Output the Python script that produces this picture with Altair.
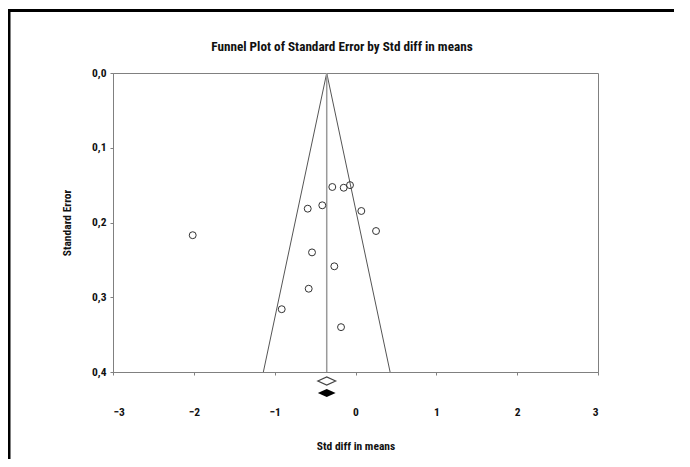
import altair as alt
import pandas as pd

# ---- data ----
effect = [-0.287, -0.146, -0.068, -0.591, -0.411, 0.072, 0.254,
          -0.538, -0.262, -0.579, -0.913, -0.179, -2.014]
std_err = [0.1525, 0.1535, 0.150, 0.1815, 0.177, 0.1846, 0.2114,
           0.240, 0.2586, 0.2886, 0.316, 0.340, 0.217]
pooled = -0.356
ci_low = -0.466
ci_high = -0.246
se_max = 0.4
z_crit = 1.96
x_ticks = [-3, -2, -1, 0, 1, 2, 3]
y_ticks = [0.0, 0.1, 0.2, 0.3, 0.4]
title_text = "Funnel Plot of Standard Error by Std diff in means"

FONT = "Roboto Condensed, Liberation Sans Narrow, Arial Narrow, Liberation Sans"
GRAY = "#808080"

studies = pd.DataFrame({"effect": effect, "se": std_err})
funnel = pd.DataFrame({
    "effect": [pooled - z_crit * se_max, pooled, pooled + z_crit * se_max],
    "se": [se_max, 0.0, se_max],
    "order": [0, 1, 2],
})
center = pd.DataFrame({"effect": [pooled], "se": [0.0], "se2": [se_max]})
diamond = pd.DataFrame({"effect": [pooled], "low": [ci_low], "high": [ci_high]})
title_df = pd.DataFrame({"t": [title_text]})

xscale = alt.Scale(domain=[-3, 3], nice=False, zero=False)
yscale = alt.Scale(domain=[0, 0.4], reverse=True, nice=False, zero=False)

xaxis = alt.Axis(values=x_ticks, format="d", grid=False, tickSize=3,
                 tickColor=GRAY, domainColor=GRAY, labelFont=FONT,
                 labelFontWeight="bold", labelFontSize=11.5, labelColor="#111",
                 labelPadding=31, title="Std diff in means", titleFont=FONT,
                 titleFontSize=11.5, titleFontWeight="bold", titleColor="#111",
                 titleY=74, titleBaseline="middle")
yaxis = alt.Axis(values=y_ticks, grid=False, tickSize=3, tickColor=GRAY,
                 domainColor=GRAY, labelFont=FONT, labelFontWeight="bold",
                 labelFontSize=11.5, labelColor="#111", labelPadding=4,
                 labelExpr="replace(format(datum.value, '.1f'), '.', ',')",
                 title="Standard Error", titleFont=FONT, titleFontSize=11.5,
                 titleFontWeight="bold", titleColor="#111", titleX=-46,
                 titleY=149.5, titleBaseline="middle", titleAngle=-90)

funnel_lines = alt.Chart(funnel).mark_line(color="#555", strokeWidth=1).encode(
    x=alt.X("effect:Q", scale=xscale, axis=xaxis),
    y=alt.Y("se:Q", scale=yscale, axis=yaxis),
    order="order:Q",
)

center_line = alt.Chart(center).mark_rule(color="#9a9a9a", strokeWidth=1.5).encode(
    x="effect:Q", y="se:Q", y2="se2:Q"
)

points = alt.Chart(studies).mark_point(
    shape="circle", size=48, filled=False, color="#333", strokeWidth=1, opacity=1
).encode(x="effect:Q", y="se:Q")

DIAMOND = "M -1 0 L 0 -0.45 L 1 0 L 0 0.45 Z"
diam_w = (ci_high - ci_low) / 6 * 485
open_diamond = alt.Chart(diamond).mark_point(
    shape=DIAMOND, size=diam_w ** 2, filled=False, color="#444",
    strokeWidth=1.2, opacity=1, clip=False
).encode(x="effect:Q", y=alt.value(308))

filled_diamond = alt.Chart(diamond).mark_point(
    shape=DIAMOND, size=diam_w ** 2, filled=True, color="#000",
    opacity=1, clip=False
).encode(x="effect:Q", y=alt.value(320))

title_mark = alt.Chart(title_df).mark_text(
    font=FONT, fontSize=13.2, fontWeight="bold", color="#111",
    align="center", baseline="middle"
).encode(text="t:N", x=alt.value(229), y=alt.value(-26))

border_top = alt.Chart(title_df).mark_rule(color="#000", strokeWidth=3).encode(
    x=alt.value(-105), x2=alt.value(561), y=alt.value(-62.5)
)
border_left = alt.Chart(title_df).mark_rule(color="#000", strokeWidth=3).encode(
    x=alt.value(-104), y=alt.value(-64), y2=alt.value(386)
)

chart = alt.layer(
    funnel_lines, center_line, points, open_diamond, filled_diamond,
    title_mark, border_top, border_left
).properties(
    width=485, height=299,
    autosize=alt.AutoSizeParams(type="none"),
    padding={"left": 105, "top": 65, "right": 84, "bottom": 87},
    background="white",
).configure_view(stroke=GRAY, strokeWidth=1)

chart.save("out.html", embed_options={"renderer": "svg", "actions": False})
